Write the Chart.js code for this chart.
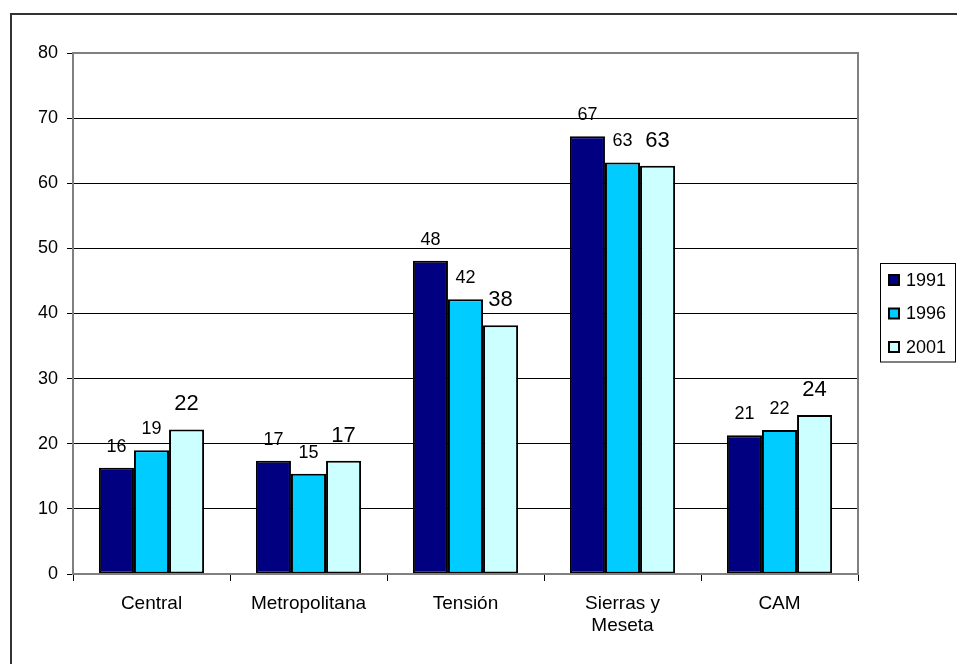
<!DOCTYPE html>
<html>
<head>
<meta charset="utf-8">
<script src="https://cdn.jsdelivr.net/npm/chart.js@4.4.1/dist/chart.umd.min.js"></script>
<style>
  html, body { margin: 0; padding: 0; background: #ffffff; }
  #wrap { position: relative; width: 957px; height: 664px; }
</style>
</head>
<body>
<div id="wrap"><canvas id="chart" width="957" height="664"></canvas></div>
<script>
// Regions and yearly values
const categories = ['Central', 'Metropolitana', 'Tensión', ['Sierras y', 'Meseta'], 'CAM'];
const years = ['1991', '1996', '2001'];
const values1991 = [16.3, 17.4, 48.1, 67.2, 21.3];
const values1996 = [19.0, 15.4, 42.2, 63.2, 22.1];
const values2001 = [22.2, 17.4, 38.2, 62.7, 24.4];
const yTicks = [0, 10, 20, 30, 40, 50, 60, 70, 80];

const FONT = 'Arial, "Liberation Sans", sans-serif';
const fills = ['#000080', '#00CCFF', '#CCFFFF'];
const labelSizes = [18, 18, 22];
const labelGaps = [16, 16, 19];

// Outer frame and white background
const framePlugin = {
  id: 'frame',
  beforeDraw(chart) {
    const c = chart.ctx;
    c.save();
    c.fillStyle = '#ffffff';
    c.fillRect(0, 0, chart.width, chart.height);
    c.strokeStyle = '#333333';
    c.lineWidth = 2;
    c.strokeRect(11, 14, chart.width + 20, chart.height + 20);
    c.restore();
  },
  afterDatasetsDraw(chart) {
    // grey plot-area border
    const a = chart.chartArea, c = chart.ctx;
    c.save();
    c.strokeStyle = '#808080';
    c.lineWidth = 2;
    c.strokeRect(a.left, a.top, a.right - a.left, a.bottom - a.top);
    c.restore();
  }
};

// Rounded value above each bar
const valueLabels = {
  id: 'valueLabels',
  afterDatasetsDraw(chart) {
    const c = chart.ctx;
    c.save();
    c.fillStyle = '#000000';
    c.textAlign = 'center';
    c.textBaseline = 'alphabetic';
    chart.data.datasets.forEach((ds, i) => {
      const meta = chart.getDatasetMeta(i);
      c.font = labelSizes[i] + 'px ' + FONT;
      meta.data.forEach((bar, j) => {
        c.fillText(String(Math.round(ds.data[j])), bar.x, bar.y - labelGaps[i]);
      });
    });
    c.restore();
  }
};

// Boxed legend at the right
const boxLegend = {
  id: 'boxLegend',
  afterDraw(chart) {
    const c = chart.ctx;
    const x0 = 880, y0 = 263, w = 75, rowH = 33.5;
    const h = rowH * chart.data.datasets.length;
    c.save();
    c.strokeStyle = '#000000';
    c.lineWidth = 1;
    c.strokeRect(x0 + 0.5, y0 + 0.5, w, h - 2);
    c.font = '18px ' + FONT;
    c.textBaseline = 'middle';
    c.textAlign = 'left';
    chart.data.datasets.forEach((ds, i) => {
      const cy = y0 + 17 + i * rowH;
      c.fillStyle = ds.backgroundColor;
      c.fillRect(889, cy - 5, 10, 10);
      c.lineWidth = 2;
      c.strokeRect(889, cy - 5, 10, 10);
      c.fillStyle = '#000000';
      c.fillText(ds.label, 906, cy + 1);
    });
    c.restore();
  }
};

const datasets = [values1991, values1996, values2001].map((vals, i) => ({
  label: years[i],
  data: vals,
  backgroundColor: fills[i],
  borderColor: '#000000',
  borderWidth: 2,
  borderSkipped: false,
  categoryPercentage: 0.67,
  barPercentage: 1.0
}));

new Chart(document.getElementById('chart'), {
  type: 'bar',
  data: { labels: categories, datasets },
  options: {
    responsive: false,
    animation: false,
    devicePixelRatio: 1,
    layout: { padding: { left: 0, top: 53, right: 99, bottom: 0 } },
    plugins: {
      legend: { display: false },
      tooltip: { enabled: false }
    },
    scales: {
      x: {
        afterFit(scale) { scale.height = 90; },
        grid: {
          offset: true,
          drawOnChartArea: false,
          drawTicks: true,
          tickLength: 7,
          color: '#000000',
          lineWidth: 1
        },
        border: { display: true, color: '#808080', width: 2 },
        ticks: {
          color: '#000000',
          font: { family: FONT, size: 19, lineHeight: 1.15 },
          padding: 12,
          maxRotation: 0,
          autoSkip: false
        }
      },
      y: {
        min: 0,
        max: 80,
        afterFit(scale) { scale.width = 73; },
        afterBuildTicks(scale) { scale.ticks = yTicks.map(v => ({ value: v })); },
        grid: {
          color: '#000000',
          lineWidth: 1,
          drawTicks: true,
          tickLength: 6
        },
        border: { display: true, color: '#808080', width: 2 },
        ticks: {
          color: '#000000',
          font: { family: FONT, size: 18 },
          padding: 9
        }
      }
    }
  },
  plugins: [framePlugin, valueLabels, boxLegend]
});
</script>
</body>
</html>
